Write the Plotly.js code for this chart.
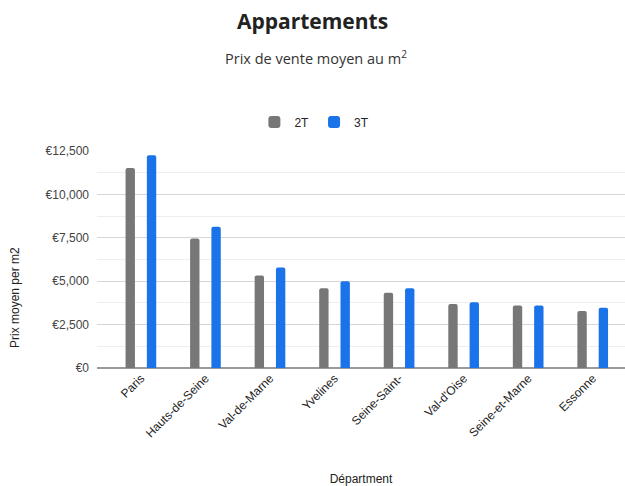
<!DOCTYPE html>
<html>
<head>
<meta charset="utf-8">
<script src="https://cdn.plot.ly/plotly-3.0.1.min.js"></script>
<style>
  html, body { margin: 0; padding: 0; background: #fff; }
  #chart { width: 625px; height: 486px; }
</style>
</head>
<body>
<div id="chart"></div>
<script>
const departments = ["Paris", "Hauts-de-Seine", "Val-de-Marne", "Yvelines", "Seine-Saint-", "Val-d'Oise", "Seine-et-Marne", "Essonne"];
const prix2T = [11520, 7460, 5330, 4600, 4330, 3680, 3600, 3280];
const prix3T = [12250, 8130, 5790, 5000, 4600, 3790, 3600, 3470];
const seriesNames = ["2T", "3T"];
const yTickValues = [0, 2500, 5000, 7500, 10000, 12500];
const yTickLabels = ["€0", "€2,500", "€5,000", "€7,500", "€10,000", "€12,500"];

const traces = [
  { type: "bar", name: seriesNames[0], x: departments, y: prix2T, marker: { color: "#777777" } },
  { type: "bar", name: seriesNames[1], x: departments, y: prix3T, marker: { color: "#1a73e8" } }
];

const layout = {
  width: 625, height: 486,
  paper_bgcolor: "#ffffff", plot_bgcolor: "#ffffff",
  margin: { l: 97, r: 0, t: 151, b: 118, pad: 0 },
  font: { family: "Liberation Sans, Arial, sans-serif", color: "#444" },
  title: {
    text: "<b>Appartements</b>",
    font: { family: "Open Sans, sans-serif", size: 21, color: "#222" },
    x: 0.5, xanchor: "center", xref: "container",
    y: 1 - 22 / 486, yanchor: "middle", yref: "container"
  },
  annotations: [
    {
      text: "Prix de vente moyen au m<sup>2</sup>",
      xref: "paper", yref: "paper", showarrow: false,
      x: (316 - 97) / 528, y: (486 - 118 - 57) / 217, yanchor: "middle", xanchor: "center",
      font: { family: "Open Sans, sans-serif", size: 14.5, color: "#333" }
    },
    {
      text: "Prix moyen per m2",
      xref: "paper", yref: "paper", showarrow: false, textangle: -90,
      x: (15 - 97) / 528, y: (368 - 298) / 217, xanchor: "center", yanchor: "middle",
      font: { family: "Liberation Sans, Arial, sans-serif", size: 12, color: "#222" }
    }
  ],
  showlegend: true,
  legend: {
    orientation: "h", xref: "container", yref: "container",
    x: 0.503, xanchor: "center", y: 1 - 122 / 486, yanchor: "middle",
    font: { family: "Liberation Sans, Arial, sans-serif", size: 12, color: "#222" },
    itemwidth: 30, traceorder: "normal"
  },
  barmode: "group",
  bargap: 0.34,
  bargroupgap: 0.56,
  barcornerradius: 2,
  xaxis: {
    type: "category",
    range: [-0.68, 7.5],
    tickangle: -45,
    showgrid: false, showline: false, zeroline: false,
    ticks: "",
    tickfont: { family: "Liberation Sans, Arial, sans-serif", size: 12, color: "#222" },
    title: { text: "Départment", standoff: 35, font: { family: "Liberation Sans, Arial, sans-serif", size: 12, color: "#222" } },
    automargin: false
  },
  yaxis: {
    range: [0, 12500],
    tickmode: "array",
    tickvals: yTickValues,
    ticktext: yTickLabels,
    showgrid: true, gridcolor: "#d6d6d6", gridwidth: 1,
    minor: { dtick: 1250, showgrid: true, gridcolor: "#eeeeee", gridwidth: 1 },
    zeroline: true, zerolinecolor: "#9a9a9a", zerolinewidth: 2,
    showline: false, ticks: "",
    ticklabelstandoff: 7,
    tickfont: { family: "Liberation Sans, Arial, sans-serif", size: 12, color: "#444" },
    automargin: false
  }
};

Plotly.newPlot("chart", traces, layout, { displayModeBar: false, staticPlot: true });
</script>
</body>
</html>
